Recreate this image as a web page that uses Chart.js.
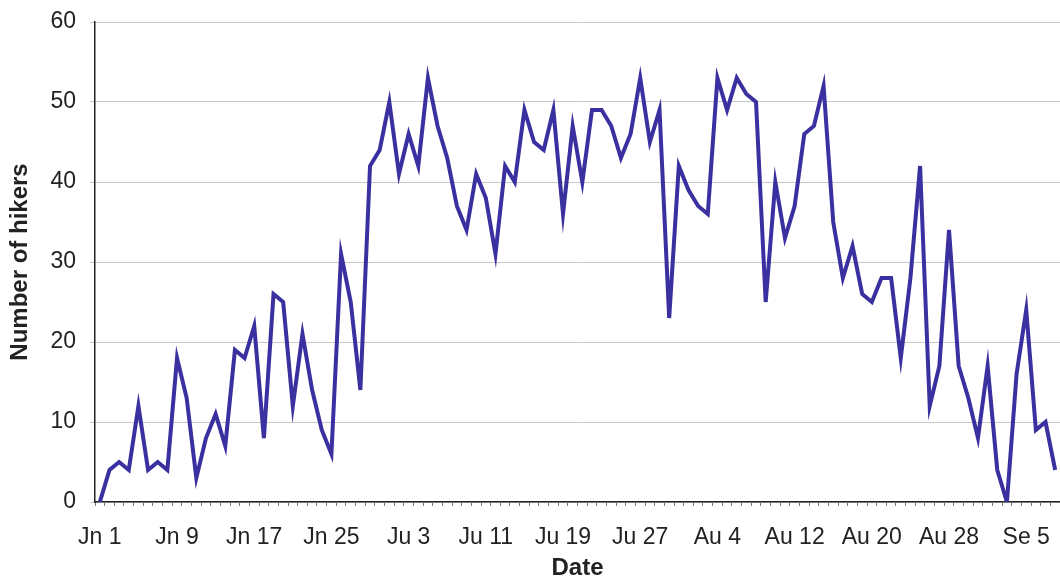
<!DOCTYPE html>
<html>
<head>
<meta charset="utf-8">
<script src="https://cdn.jsdelivr.net/npm/chart.js@4"></script>
<style>
  body { margin: 0; background: #fff; }
</style>
</head>
<body>
<canvas id="hikers" width="1060" height="580"></canvas>
<script>
// months in the season and how many days of each are plotted
const monthNames = ['Jn', 'Ju', 'Au', 'Se'];
const monthDays = [30, 31, 31, 8];

// labels that are printed under the axis
const tickLabels = ['Jn 1', 'Jn 9', 'Jn 17', 'Jn 25', 'Ju 3', 'Ju 11', 'Ju 19',
                    'Ju 27', 'Au 4', 'Au 12', 'Au 20', 'Au 28', 'Se 5'];

// daily hiker counts, Jn 1 .. Se 8
const hikers = [
  0, 4, 5, 4, 12, 4, 5, 4, 18, 13,
  3, 8, 11, 7, 19, 18, 22, 8, 26, 25,
  12, 21, 14, 9, 6, 31, 25, 14, 42, 44,
  50, 41, 46, 42, 53, 47, 43, 37, 34, 41,
  38, 31, 42, 40, 49, 45, 44, 49, 36, 47,
  40, 49, 49, 47, 43, 46, 53, 45, 49, 23,
  42, 39, 37, 36, 53, 49, 53, 51, 50, 25,
  40, 33, 37, 46, 47, 52, 35, 28, 32, 26,
  25, 28, 28, 18, 28, 42, 12, 17, 34, 17,
  13, 8, 17, 4, 0, 16, 24, 9, 10, 4
];

const yTicks = [0, 10, 20, 30, 40, 50, 60];

// one category per day
const days = [];
monthNames.forEach((m, i) => {
  for (let d = 1; d <= monthDays[i]; d++) days.push(m + ' ' + d);
});

const font = 'Liberation Sans, Arial, sans-serif';

new Chart(document.getElementById('hikers'), {
  type: 'line',
  data: {
    labels: days,
    datasets: [{
      data: hikers,
      borderColor: '#3a30a0',
      borderWidth: 4,
      borderJoinStyle: 'miter',
      pointRadius: 0,
      tension: 0,
      fill: false
    }]
  },
  options: {
    responsive: false,
    animation: false,
    // plot runs a little past the right edge, like the cropped original
    layout: { padding: { top: 22, right: -8, bottom: 0, left: 0 } },
    plugins: {
      legend: { display: false },
      tooltip: { enabled: false }
    },
    scales: {
      x: {
        type: 'category',
        offset: true,
        grid: {
          offset: true,
          drawOnChartArea: false,
          drawTicks: true,
          tickLength: 4,
          color: '#777'
        },
        border: { display: true, color: '#222', width: 1.5 },
        ticks: {
          autoSkip: false,
          maxRotation: 0,
          minRotation: 0,
          padding: 18,
          color: '#222',
          font: { family: font, size: 23 },
          callback: function(value) {
            const lbl = this.getLabelForValue(value);
            return tickLabels.includes(lbl) ? lbl : '';
          }
        },
        title: {
          display: true,
          text: 'Date',
          color: '#222',
          padding: 0,
          font: { family: font, size: 24, weight: 'bold', lineHeight: 1.0 }
        },
        afterFit: (scale) => {
          scale.height = 78;
          scale.paddingLeft = 0;
          scale.paddingRight = 0;
        }
      },
      y: {
        min: 0,
        max: 60,
        afterBuildTicks: (scale) => { scale.ticks = yTicks.map(v => ({ value: v })); },
        grid: {
          color: '#c8c8c8',
          lineWidth: 1,
          tickLength: 5
        },
        border: { display: true, color: '#222', width: 1.5 },
        ticks: {
          padding: 14,
          color: '#222',
          font: { family: font, size: 23 }
        },
        title: {
          display: true,
          text: 'Number of hikers',
          color: '#222',
          padding: { top: 6, bottom: 0 },
          font: { family: font, size: 24, weight: 'bold', lineHeight: 1.2 }
        },
        afterFit: (scale) => {
          scale.width = 95;
          scale.paddingTop = 0;
          scale.paddingBottom = 0;
        }
      }
    }
  }
});
</script>
</body>
</html>
